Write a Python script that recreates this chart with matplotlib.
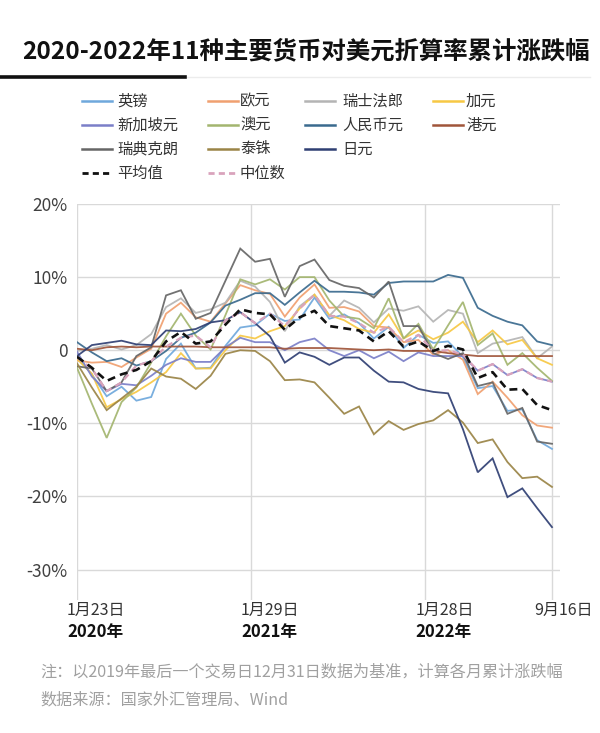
import matplotlib
matplotlib.use("Agg")
import matplotlib.pyplot as plt
from matplotlib.lines import Line2D
import numpy as np

plt.rcParams['font.family'] = ['Noto Sans CJK SC', 'DejaVu Sans']
plt.rcParams['axes.unicode_minus'] = False

# ---------------- data (cumulative % change vs USD, base 2019-12-31) ----------------
# 33 observations: 2020-01-23, month ends Feb 2020 .. Aug 2022, 2022-09-16
gbp = [-1.0, -3.3, -6.3, -5.0, -6.9, -6.4, -1.2, 0.9, -2.5, -2.4, 0.6, 3.1,
       3.4, 5.0, 4.0, 4.2, 7.2, 4.3, 4.9, 3.7, 1.6, 3.2, 0.3, 2.1,
       1.0, 1.2, -0.9, -5.2, -4.9, -8.3, -8.1, -12.3, -13.5]
eur = [-1.4, -1.7, -1.6, -2.3, -1.0, 0.2, 5.0, 6.5, 4.5, 3.9, 6.4, 8.9,
       8.2, 7.7, 4.6, 7.2, 9.0, 5.8, 5.9, 5.3, 3.3, 3.1, 1.1, 1.4,
       -0.6, 0.0, -1.3, -6.0, -4.3, -6.5, -8.9, -10.3, -10.6]
chf = [-0.1, 0.2, 0.7, 0.1, 0.7, 2.2, 5.9, 7.1, 5.1, 5.6, 6.5, 9.5,
       8.7, 6.6, 2.6, 6.0, 7.6, 4.7, 6.8, 5.8, 3.8, 5.7, 5.4, 6.0,
       3.9, 5.5, 5.0, -0.4, 0.9, 1.3, 1.8, -1.1, 0.5]
cad = [-1.2, -3.2, -7.8, -6.7, -5.7, -4.4, -3.0, -0.4, -2.5, -2.5, 0.0, 2.0,
       1.6, 2.6, 3.3, 5.7, 7.6, 4.8, 4.1, 2.9, 2.4, 4.9, 1.6, 2.7,
       1.5, 2.4, 3.9, 1.1, 2.7, 0.8, 1.4, -1.1, -2.0]
sgd = [-0.2, -3.6, -5.6, -4.6, -4.8, -3.5, -2.0, -1.1, -1.6, -1.6, 0.4, 1.7,
       1.1, 1.1, 0.0, 1.1, 1.6, 0.0, -0.8, 0.0, -1.1, -0.2, -1.5, -0.3,
       -0.8, -0.8, -0.8, -2.8, -1.9, -3.4, -2.6, -3.8, -4.3]
aud = [-2.4, -7.3, -12.0, -7.1, -5.1, -1.7, 1.9, 5.0, 2.0, 0.1, 4.8, 9.7,
       9.0, 9.7, 8.3, 10.0, 10.0, 6.8, 4.6, 4.3, 3.0, 7.1, 1.6, 3.6,
       0.1, 3.4, 6.6, 0.7, 2.3, -2.0, -0.4, -2.4, -4.2]
cny = [1.1, -0.3, -1.5, -1.1, -2.1, -1.5, -0.1, 1.7, 2.4, 3.8, 6.1, 6.9,
       7.8, 7.8, 6.2, 7.9, 9.5, 8.0, 8.0, 7.9, 7.6, 9.2, 9.4, 9.4,
       9.4, 10.3, 9.9, 5.8, 4.7, 3.9, 3.4, 1.2, 0.7]
hkd = [0.2, 0.0, 0.4, 0.5, 0.4, 0.5, 0.5, 0.5, 0.5, 0.4, 0.4, 0.4,
       0.4, 0.4, 0.2, 0.3, 0.3, 0.3, 0.2, 0.1, 0.0, 0.1, -0.1, -0.1,
       -0.1, -0.4, -0.6, -0.8, -0.8, -0.8, -0.8, -0.8, -0.8]
sek = [-2.2, -2.5, -5.6, -4.4, -0.8, 0.4, 7.5, 8.2, 4.3, 5.1, 9.5, 13.9,
       12.1, 12.5, 7.3, 11.5, 12.4, 9.6, 8.8, 8.5, 7.2, 9.4, 3.3, 3.3,
       -0.4, -1.2, -0.4, -4.9, -4.4, -8.7, -7.9, -12.5, -12.8]
thb = [-1.8, -5.1, -8.2, -6.6, -5.0, -2.5, -3.6, -3.9, -5.3, -3.5, -0.5, 0.0,
       -0.1, -1.5, -4.1, -4.0, -4.4, -6.5, -8.7, -7.7, -11.5, -9.7, -10.9, -10.1,
       -9.6, -8.2, -9.9, -12.7, -12.2, -15.3, -17.5, -17.3, -18.7]
jpy = [-0.8, 0.7, 1.0, 1.3, 0.8, 0.7, 2.7, 2.6, 2.9, 3.8, 4.1, 5.2,
       3.7, 1.9, -1.7, -0.3, -0.9, -2.0, -1.0, -1.0, -2.8, -4.3, -4.4, -5.3,
       -5.7, -5.9, -10.8, -16.7, -14.8, -20.1, -18.9, -21.6, -24.2]
mean_v = [-0.9, -2.4, -4.2, -3.3, -2.7, -1.5, 1.2, 2.5, 0.9, 1.2, 3.5, 5.6,
          5.1, 4.9, 2.8, 4.5, 5.4, 3.3, 3.0, 2.7, 1.2, 2.6, 0.5, 1.2,
          -0.1, 0.6, 0.1, -3.8, -3.0, -5.4, -5.3, -7.5, -8.2]
median_v = [-1.0, -2.5, -5.6, -4.4, -2.1, -1.5, 0.5, 1.7, 2.0, 0.4, 4.1, 5.2,
            3.7, 5.0, 3.3, 5.7, 7.6, 4.7, 4.6, 3.7, 2.4, 3.2, 1.1, 2.1,
            -0.1, 0.0, -0.6, -2.8, -1.9, -3.4, -2.6, -3.8, -4.3]

names = ['英镑', '欧元', '瑞士法郎', '加元', '新加坡元', '澳元', '人民币元',
         '港元', '瑞典克朗', '泰铢', '日元']
series = [gbp, eur, chf, cad, sgd, aud, cny, hkd, sek, thb, jpy]
colors = ['#6FA8DC', '#F0A070', '#B4B4B4', '#F7C844', '#7B7FC8', '#A3B56F',
          '#3A6A8E', '#A0553A', '#666666', '#9A8446', '#2F3F73']
mean_name, median_name = '平均值', '中位数'

date_labels = ['1月23日', '1月29日', '1月28日', '9月16日']
year_labels = ['2020年', '2021年', '2022年']
y_ticks = [20, 10, 0, -10, -20, -30]
y_ticklabels = ['20%', '10%', '0', '-10%', '-20%', '-30%']

title = '2020-2022年11种主要货币对美元折算率累计涨跌幅'
note1 = '注：以2019年最后一个交易日12月31日数据为基准，计算各月累计涨跌幅'
note2 = '数据来源：国家外汇管理局、Wind'

# ---------------- figure ----------------
W, H = 600, 733
fig = plt.figure(figsize=(W / 100, H / 100), dpi=100)
fig.patch.set_facecolor('white')

def fx(px):
    return px / W

def fy(py):
    return 1 - py / H

ax = fig.add_axes([fx(77), fy(600), fx(560) - fx(77), fy(204) - fy(600)])
x = np.arange(len(gbp))

for vals, c in zip(series, colors):
    ax.plot(x, vals, color=c, lw=1.3, alpha=0.92, solid_joinstyle='miter')
ax.plot(x, median_v, color='#D9A3BC', lw=1.6, ls=(0, (3, 2)))
ax.plot(x, mean_v, color='#111111', lw=1.9, ls=(0, (3, 2)))

ax.set_xlim(0, 32.54)
ax.set_ylim(-34.17, 20)

vgrid = [0, 11.73, 23.45, 32]
for vx in vgrid:
    ax.axvline(vx, color='#D9D9D9', lw=1, zorder=0)
ax.set_yticks(y_ticks)
ax.set_yticklabels(y_ticklabels, fontsize=12.5, color='#404040')
ax.yaxis.grid(True, color='#D9D9D9', lw=1, zorder=0)
ax.set_axisbelow(True)
ax.tick_params(axis='y', length=0, pad=7)
ax.set_xticks([])
for s in ax.spines.values():
    s.set_visible(False)

# x labels
label_x = [-0.67, 11.05, 22.78, 30.8]
tr = ax.get_xaxis_transform()
for lx, lab in zip(label_x, date_labels):
    ax.text(lx, -0.026, lab, transform=tr, ha='left', va='center',
            fontsize=11.5, color='#333333')
for lx, lab in zip(label_x[:3], year_labels):
    ax.text(lx, -0.081, lab, transform=tr, ha='left', va='center',
            fontsize=12, color='#111111', fontweight='bold')

# title and underline
fig.text(fx(22), fy(51), title, fontsize=17.6, fontweight='bold',
         color='#111111', ha='left', va='center')
fig.add_artist(Line2D([0, fx(590)], [fy(77), fy(77)], color='#ECECEC', lw=1))
fig.add_artist(Line2D([0, fx(185)], [fy(77), fy(77)], color='#111111', lw=2.6))

# manual legend (row-wise)
entries = [(n, c, '-') for n, c in zip(names, colors)]
entries += [(mean_name, '#111111', 'mean'), (median_name, '#D9A3BC', 'median')]
layout = [[0, 1, 2, 3], [4, 5, 6, 7], [8, 9, 10], [11, 12]]
row_y = [101, 125, 149, 173]
col_line = [82, 208, 305, 433]
col_text = [117, 240, 342, 466]
for r, row in enumerate(layout):
    for c, k in enumerate(row):
        n, colr, kind = entries[k]
        yy = fy(row_y[r])
        if kind == '-':
            ln = Line2D([fx(col_line[c]), fx(col_line[c] + 30)], [yy, yy],
                        color=colr, lw=1.8)
        else:
            ln = Line2D([fx(col_line[c]), fx(col_line[c] + 30)], [yy, yy],
                        color=colr, lw=2.0, ls=(0, (2.2, 1.5)))
        fig.add_artist(ln)
        fig.text(fx(col_text[c]), yy, n, fontsize=11, color='#333333',
                 ha='left', va='center')

# notes
fig.text(fx(40), fy(672), note1, fontsize=11.6, color='#A0A0A0',
         ha='left', va='center')
fig.text(fx(40), fy(700), note2, fontsize=11.6, color='#A0A0A0',
         ha='left', va='center')

fig.savefig('out.png', dpi=100, facecolor='white')
